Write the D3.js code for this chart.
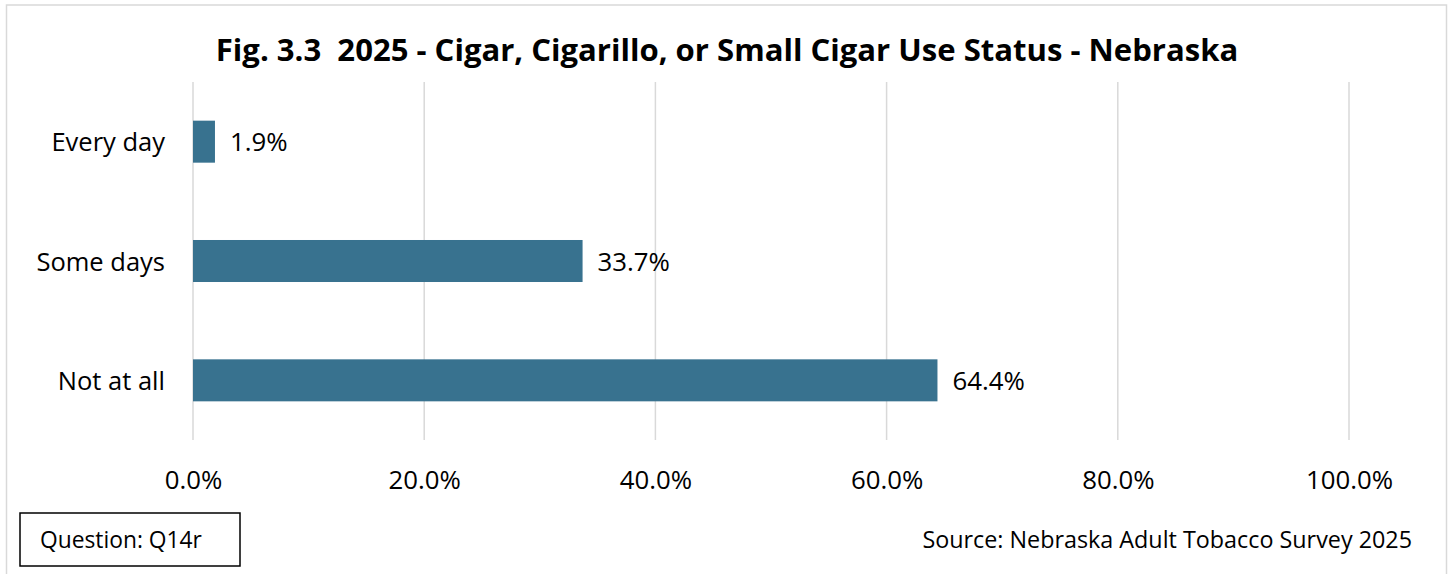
<!DOCTYPE html>
<html>
<head>
<meta charset="utf-8">
<script src="https://cdn.jsdelivr.net/npm/d3@7"></script>
<style>
  html, body { margin: 0; padding: 0; background: #fff; }
  svg { display: block; }
  text { white-space: pre; }
</style>
</head>
<body>
<svg id="chart" width="1450" height="574"></svg>
<script>
const categories = ["Every day", "Some days", "Not at all"];
const values = [1.9, 33.7, 64.4];
const tickValues = [0, 20, 40, 60, 80, 100];
const titleText = "Fig. 3.3  2025 - Cigar, Cigarillo, or Small Cigar Use Status - Nebraska";
const questionText = "Question: Q14r";
const sourceText = "Source: Nebraska Adult Tobacco Survey 2025";

const FONT = "'Open Sans', 'Noto Sans', sans-serif";
const svg = d3.select("#chart");

// outer border
svg.append("rect").attr("x", 6.5).attr("y", 5).attr("width", 1440).attr("height", 580)
  .attr("fill", "#fff").attr("stroke", "#d9d9d9").attr("stroke-width", 1.5);

const x = d3.scaleLinear().domain([0, 100]).range([193, 1349]);
const y = d3.scaleBand().domain(categories).range([82, 440]).paddingInner(0).paddingOuter(0);
const barFrac = 0.352;

function fit(sel, target) {
  const w = sel.node().getComputedTextLength();
  const fs = parseFloat(sel.attr("font-size"));
  sel.attr("font-size", fs * target / w);
}

// gridlines
svg.append("g").selectAll("line").data(tickValues).join("line")
  .attr("x1", d => x(d)).attr("x2", d => x(d))
  .attr("y1", 82).attr("y2", 440)
  .attr("stroke", "#d9d9d9").attr("stroke-width", 1.5);

// x axis labels
const xAxis = d3.axisBottom(x).tickValues(tickValues).tickSize(0).tickPadding(0)
  .tickFormat(d => d.toFixed(1) + "%");
const gx = svg.append("g").attr("transform", "translate(0,489)").call(xAxis);
gx.select(".domain").remove();
gx.selectAll("text").attr("font-family", FONT).attr("font-size", 25.8)
  .attr("fill", "#000").attr("dy", 0).attr("y", 0);

// category labels
svg.append("g").selectAll("text").data(categories).join("text")
  .attr("x", 165).attr("y", d => y(d) + y.bandwidth() / 2 + 9.5)
  .attr("text-anchor", "end")
  .attr("font-family", FONT).attr("font-size", 25.5).attr("fill", "#000")
  .text(d => d);

// bars
svg.append("g").selectAll("rect").data(values).join("rect")
  .attr("x", x(0)).attr("width", d => x(d) - x(0))
  .attr("y", (d, i) => y(categories[i]) + y.bandwidth() * (1 - barFrac) / 2)
  .attr("height", y.bandwidth() * barFrac)
  .attr("fill", "#38728F");

// value labels
svg.append("g").selectAll("text").data(values).join("text")
  .attr("x", d => x(d) + 15)
  .attr("y", (d, i) => y(categories[i]) + y.bandwidth() / 2 + 9.5)
  .attr("font-family", FONT).attr("font-size", 25.8).attr("fill", "#000")
  .text(d => d.toFixed(1) + "%");

// title
const t = svg.append("text").attr("x", 727).attr("y", 61).attr("text-anchor", "middle")
  .attr("font-family", FONT).attr("font-weight", "bold").attr("font-size", 31)
  .attr("fill", "#000").text(titleText);
fit(t, 1023);

// question box
svg.append("rect").attr("x", 20).attr("y", 513).attr("width", 220).attr("height", 53)
  .attr("fill", "#fff").attr("stroke", "#000").attr("stroke-width", 1.5);
const q = svg.append("text").attr("x", 40).attr("y", 548)
  .attr("font-family", FONT).attr("font-size", 21).attr("fill", "#000").text(questionText);
fit(q, 162);

// source
const s = svg.append("text").attr("x", 1412).attr("y", 548).attr("text-anchor", "end")
  .attr("font-family", FONT).attr("font-size", 21).attr("fill", "#000").text(sourceText);
fit(s, 490);
</script>
</body>
</html>
